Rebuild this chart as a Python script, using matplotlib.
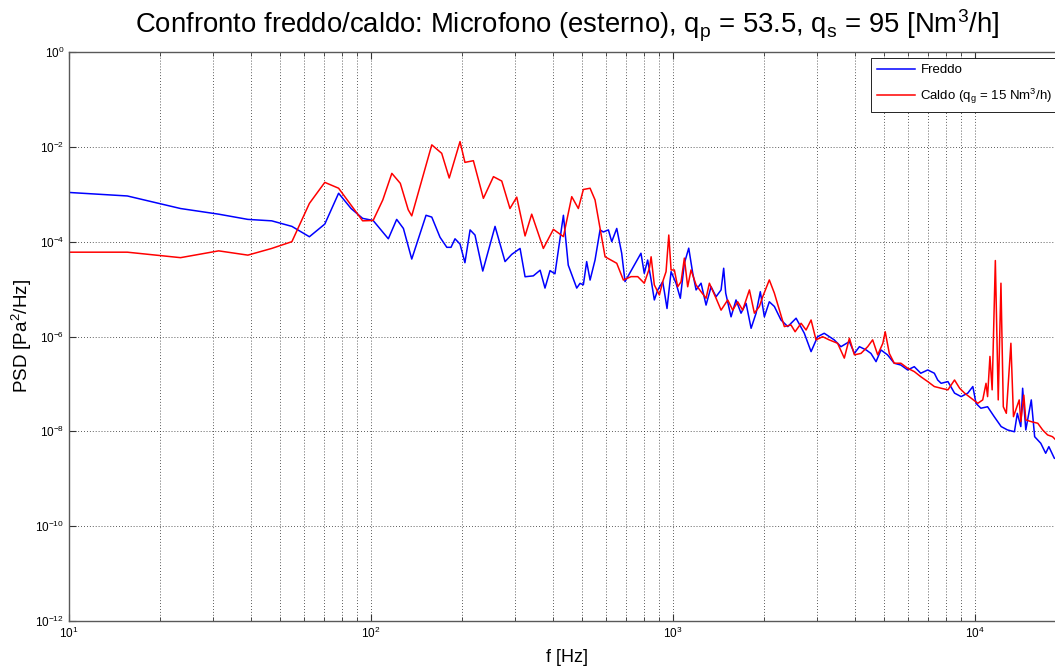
import matplotlib
matplotlib.use("Agg")
import matplotlib.pyplot as plt
from matplotlib.ticker import LogLocator, NullFormatter, FixedLocator

plt.rcParams['font.family'] = ['Liberation Sans', 'DejaVu Sans']
plt.rcParams['mathtext.default'] = 'regular'

# Freddo (blue) - frequency [Hz] and PSD [Pa^2/Hz]
freq_freddo = [7.8, 15.6, 23.4, 31.3, 39.1, 46.9, 54.7, 62.5, 70.3, 78.1, 85.9, 93.8, 101.6,
               114.1, 121.6, 128, 136.4, 152.1, 158.9, 169.2, 178.2, 184, 189.7, 197.1, 204.6,
               212.8, 220.9, 234.4, 257.4, 277.8, 292.4, 311.5, 323.6, 344.6, 363, 376.7,
               391.4, 406.4, 433.5, 449.8, 479.8, 492, 504.7, 517.6, 531.2, 551.7, 573.2,
               587.5, 610.9, 626.6, 651, 676, 693.4, 783, 803, 824, 846, 867, 890, 924, 936,
               955, 985, 1023, 1057, 1090, 1127, 1162, 1192, 1238, 1286, 1336, 1388, 1442,
               1471, 1494, 1556, 1616, 1679, 1745, 1813, 1883, 1945, 2006, 2083, 2165, 2277,
               2398, 2555, 2720, 2864, 3010, 3166, 3416, 3597, 3836, 3985, 4140, 4360, 4520,
               4700, 4880, 5130, 5400, 5680, 5980, 6290, 6610, 6970, 7330, 7520, 7720, 8130,
               8550, 8990, 9460, 9830, 10070, 10450, 11000, 11570, 12200, 12800, 13500,
               13800, 14170, 14370, 14720, 15350, 15750, 16500, 17130, 17550, 18300, 20000]
psd_freddo = [1.2e-3, 9.2e-4, 5.0e-4, 3.8e-4, 2.95e-4, 2.75e-4, 2.1e-4, 1.27e-4, 2.35e-4,
              1.05e-3, 5.0e-4, 3.1e-4, 2.8e-4,
              1.15e-4, 2.95e-4, 1.9e-4, 4.3e-5, 3.6e-4, 3.3e-4, 1.24e-4, 7.6e-5, 7.6e-5,
              1.15e-4, 8.9e-5, 3.6e-5, 1.77e-4, 1.38e-4, 2.4e-5, 2.1e-4, 3.8e-5, 5.4e-5,
              7.2e-5, 1.82e-5, 1.9e-5, 2.5e-5, 1.05e-5, 2.45e-5, 2.1e-5, 3.6e-4, 3.2e-5,
              1.05e-5, 1.32e-5, 1.23e-5, 3.8e-5, 1.55e-5, 4.1e-5, 1.77e-4, 1.6e-4, 1.77e-4,
              1.0e-4, 1.9e-4, 5.7e-5, 1.44e-5, 5.7e-5, 2.15e-5, 4.1e-5, 1.56e-5, 5.9e-6,
              9.6e-6, 1.43e-5, 8.8e-6, 3.9e-6, 2.33e-5, 1.33e-5, 6.4e-6, 3.5e-5, 7.3e-5,
              2.15e-5, 9.6e-6, 1.33e-5, 4.6e-6, 1.12e-5, 6.9e-6, 9.6e-6, 2.75e-5, 8.2e-6,
              2.6e-6, 5.9e-6, 3.1e-6, 5.0e-6, 1.49e-6, 3.1e-6, 8.8e-6, 2.6e-6, 5.4e-6,
              4.3e-6, 2.23e-6, 1.62e-6, 2.43e-6, 1.17e-6, 4.8e-7, 9.9e-7, 1.17e-6, 8.5e-7,
              6.1e-7, 7.8e-7, 4.4e-7, 6.1e-7, 5.2e-7, 4.4e-7, 2.95e-7, 5.2e-7, 4.1e-7,
              2.73e-7, 2.5e-7, 1.97e-7, 2.31e-7, 1.68e-7, 1.97e-7, 1.68e-7, 1.21e-7, 1.03e-7,
              1.12e-7, 6.4e-8, 5.4e-8, 6.4e-8, 8.8e-8, 3.9e-8, 3.07e-8, 3.3e-8, 2.04e-8,
              1.26e-8, 1.07e-8, 9.8e-9, 2.4e-8, 1.26e-8, 8.1e-8, 1.07e-8, 4.6e-8, 7.7e-9,
              5.6e-9, 3.45e-9, 4.75e-9, 2.7e-9, 2.5e-9]

# Caldo (red)
freq_caldo = [7.8, 15.6, 23.4, 31.3, 39.1, 46.9, 54.7, 62.5, 70.3, 78.1, 85.9, 93.8, 101.6,
              109.4, 117.2, 125.0, 132.8, 136.4, 158.9, 171.4, 181.5, 197.1, 204.6, 218.2,
              235.5, 254.3, 270.9, 288.4, 303.7, 323.6, 340.4, 372, 401.5, 433.5, 461.9,
              485.8, 504.7, 531.2, 551.7, 573.2, 595.6, 651, 684.7, 726, 764, 803, 835, 846,
              867, 901, 924, 948, 968, 985, 1010, 1036, 1063, 1090, 1118, 1147, 1192, 1238,
              1286, 1319, 1388, 1442, 1517, 1576, 1637, 1700, 1790, 1859, 1931, 1981, 2083,
              2165, 2250, 2336, 2458, 2536, 2654, 2757, 2864, 2974, 3128, 3287, 3506, 3690,
              3836, 3985, 4190, 4410, 4580, 4760, 4950, 5040, 5200, 5400, 5680, 5980, 6290,
              6610, 6970, 7330, 7720, 8130, 8550, 8890, 9230, 9700, 10210, 10600, 10870,
              11000, 11200, 11390, 11670, 11930, 12180, 12400, 12690, 13140, 13400, 14000,
              14170, 14500, 14720, 15350, 16130, 16740, 17380, 18050, 18500, 20000]
psd_caldo = [6.0e-5, 6.0e-5, 4.6e-5, 6.4e-5, 5.2e-5, 7.2e-5, 1.0e-4, 6.4e-4, 1.78e-3,
             1.34e-3, 5.9e-4, 2.75e-4, 2.8e-4, 7.6e-4, 2.76e-3, 1.7e-3, 4.7e-4, 3.5e-4,
             1.1e-2, 7.3e-3, 2.2e-3, 1.29e-2, 4.7e-3, 5.1e-3, 8.2e-4, 2.35e-3, 1.9e-3,
             5.0e-4, 8.7e-4, 1.32e-4, 3.8e-4, 7.2e-5, 1.82e-4, 1.28e-4, 8.9e-4, 5.0e-4,
             1.26e-3, 1.34e-3, 7.6e-4, 1.9e-4, 4.8e-5, 3.5e-5, 1.55e-5, 1.83e-5, 1.83e-5,
             1.33e-5, 2.75e-5, 4.8e-5, 1.22e-5, 7.5e-6, 1.43e-5, 2.33e-5, 1.38e-4, 2.53e-5,
             2.53e-5, 1.12e-5, 1.43e-5, 4.5e-5, 1.12e-5, 2.53e-5, 1.22e-5, 8.8e-6, 6.4e-6,
             1.33e-5, 6.4e-6, 3.6e-6, 5.9e-6, 3.6e-6, 5.4e-6, 3.6e-6, 9.6e-6, 3.1e-6, 4.3e-6,
             6.9e-6, 1.56e-5, 8.2e-6, 3.6e-6, 1.62e-6, 1.75e-6, 1.26e-6, 1.9e-6, 1.37e-6,
             2.23e-6, 8.5e-7, 9.9e-7, 8.5e-7, 7.2e-7, 3.5e-7, 9.2e-7, 4.1e-7, 4.4e-7, 6.1e-7,
             8.5e-7, 4.1e-7, 7.2e-7, 1.26e-6, 4.4e-7, 2.73e-7, 2.73e-7, 2.14e-7, 1.82e-7,
             1.42e-7, 1.12e-7, 8.8e-8, 8.1e-8, 7.5e-8, 1.21e-7, 8.1e-8, 6.4e-8, 5.0e-8,
             3.9e-8, 4.6e-8, 1.03e-7, 5.4e-8, 3.8e-7, 7.5e-8, 4.0e-5, 4.6e-8, 1.33e-5, 3.3e-8,
             2.4e-8, 7.2e-7, 2.04e-8, 4.6e-8, 1.6e-8, 5.8e-8, 1.74e-8, 1.6e-8, 1.48e-8,
             1.07e-8, 8.4e-9, 7.7e-9, 6.6e-9, 6.0e-9]

title = 'Confronto freddo/caldo: Microfono (esterno), q$_p$ = 53.5, q$_s$ = 95 [Nm$^3$/h]'
legend_labels = ['Freddo', 'Caldo (q$_g$ = 15 Nm$^3$/h)']

fig = plt.figure(figsize=(10.55, 6.69), dpi=100)
# axes runs a little past the right edge of the picture, as in the original
ax = fig.add_axes([69 / 1055, 48 / 669, 997 / 1055, 569 / 669])

ax.plot(freq_freddo, psd_freddo, color=(0, 0, 1), lw=1.1, label=legend_labels[0])
ax.plot(freq_caldo, psd_caldo, color=(1, 0, 0), lw=1.1, label=legend_labels[1])

ax.set_xscale('log')
ax.set_yscale('log')
ax.set_xlim(10, 2e4)
ax.set_ylim(1e-12, 1)

ax.yaxis.set_major_locator(FixedLocator([10.0 ** k for k in range(-12, 1, 2)]))
ax.yaxis.set_minor_locator(FixedLocator([]))
ax.xaxis.set_major_locator(LogLocator(base=10))
ax.xaxis.set_minor_locator(LogLocator(base=10, subs=range(2, 10)))
ax.xaxis.set_minor_formatter(NullFormatter())

grid_style = dict(color='0.15', linestyle=(0, (1, 2.5)), linewidth=0.6)
ax.grid(True, which='major', axis='both', **grid_style)
ax.grid(True, which='minor', axis='x', **grid_style)

ax.tick_params(which='both', direction='in', top=True, right=True, labelsize=8.5,
               color='0.2')
ax.tick_params(which='major', length=5)
ax.tick_params(which='minor', length=3)
for s in ax.spines.values():
    s.set_color('0.35')
    s.set_linewidth(1.0)

ax.set_title(title, fontsize=19.8, pad=13)
ax.set_xlabel('f [Hz]', fontsize=13, labelpad=6)
ax.set_ylabel('PSD [Pa$^2$/Hz]', fontsize=13.5, labelpad=1)

leg = ax.legend(loc='upper left', bbox_to_anchor=(0.8044, 0.9895), fontsize=9.5,
                fancybox=False, framealpha=1, edgecolor='black', borderaxespad=0,
                handlelength=2.9, handletextpad=0.4, borderpad=0.45, labelspacing=0.8)
leg.get_frame().set_linewidth(0.6)

fig.savefig('out.png', dpi=100)
